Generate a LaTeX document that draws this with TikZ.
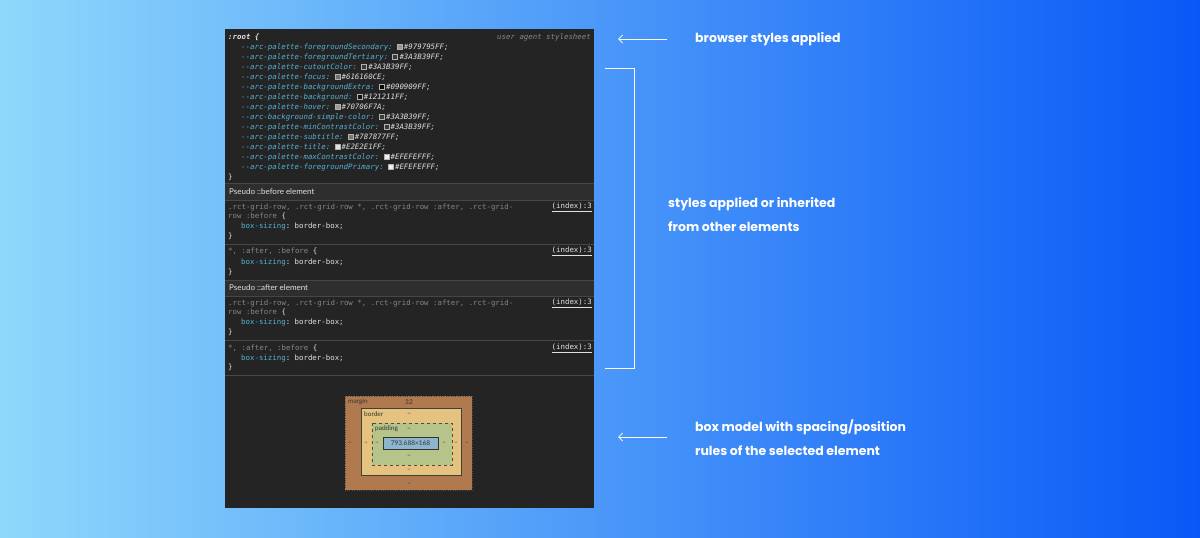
\documentclass[tikz,border=0pt]{standalone}
\usepackage{fontspec}
\setmainfont{Poppins}
\setsansfont{Lato}
\setmonofont{DejaVu Sans Mono}
\usetikzlibrary{positioning, arrows.meta}
\definecolor{bgleft}{RGB}{142,216,251}
\definecolor{bgright}{RGB}{8,88,247}
\definecolor{panelcolor}{RGB}{36,36,36}
\definecolor{headcolor}{RGB}{46,46,46}
\definecolor{rulecolor}{RGB}{70,70,70}
\definecolor{propcolor}{RGB}{82,178,214}
\definecolor{valcolor}{RGB}{225,225,225}
\definecolor{selcolor}{RGB}{135,135,135}
\definecolor{margincolor}{RGB}{176,122,78}
\definecolor{bordercolor}{RGB}{230,194,127}
\definecolor{padcolor}{RGB}{182,196,138}
\definecolor{contentcolor}{RGB}{141,182,206}
\begin{document}
\begin{tikzpicture}[
    x=1pt, y=-1pt,
    code/.style={anchor=west, inner sep=0pt, font=\ttfamily\fontsize{7.4}{8}\selectfont},
    prop/.style={code, text=propcolor},
    val/.style={code, text=valcolor},
    sel/.style={code, text=selcolor},
    src/.style={code, text=valcolor, anchor=east},
    header/.style={anchor=west, inner sep=0pt, text=valcolor, font=\sffamily\fontsize{8}{9}\selectfont},
    note/.style={anchor=west, inner sep=0pt, text=white, align=left, font=\fontsize{12.5}{24}\selectfont\bfseries},
    swatch/.style={draw=gray!60, minimum size=5pt, inner sep=0pt},
    pointer/.style={-{Straight Barb[length=4pt]}, white, line width=0.8pt},
    boxlabel/.style={inner sep=0pt, text=black!80, font=\sffamily\fontsize{6.5}{7}\selectfont}
]
    % background
    \shade[left color=bgleft, right color=bgright] (0,0) rectangle (1200,538);

    % devtools panel
    \fill[panelcolor] (225,29) rectangle (594,508);
    \fill[headcolor] (225,183) rectangle (594,200);
    \fill[headcolor] (225,280) rectangle (594,296);
    \foreach \y in {183,200,244,280,296,340,375}
        \draw[rulecolor, line width=0.7pt] (225,\y) -- (594,\y);

    % :root block
    \node[val, font=\ttfamily\itshape\bfseries\fontsize{7.4}{8}\selectfont] (root) at (228,37) {:root \{};
    \node[sel, anchor=east, font=\ttfamily\itshape\fontsize{7.4}{8}\selectfont] (uas) at (591,37) {user agent stylesheet};
    \foreach \prop/\val/\sw [count=\i] in {
        --arc-palette-foregroundSecondary/979795FF/979795,
        --arc-palette-foregroundTertiary/3A3B39FF/3A3B39,
        --arc-palette-cutoutColor/3A3B39FF/3A3B39,
        --arc-palette-focus/616160CE/707070,
        --arc-palette-backgroundExtra/090909FF/090909,
        --arc-palette-background/121211FF/121211,
        --arc-palette-hover/70706F7A/9A9A9A,
        --arc-background-simple-color/3A3B39FF/3A3B39,
        --arc-palette-minContrastColor/3A3B39FF/3A3B39,
        --arc-palette-subtitle/787877FF/787877,
        --arc-palette-title/E2E2E1FF/E2E2E1,
        --arc-palette-maxContrastColor/EFEFEFFF/EFEFEF,
        --arc-palette-foregroundPrimary/EFEFEFFF/EFEFEF} {
        \definecolor{sw\i}{HTML}{\sw}
        \node[prop, font=\ttfamily\itshape\fontsize{7.4}{8}\selectfont] (p\i) at (241,37+10*\i) {\prop:};
        \node[swatch, fill=sw\i, right=4pt of p\i] (s\i) {};
        \node[val, font=\ttfamily\itshape\fontsize{7.4}{8}\selectfont, right=1.5pt of s\i] (v\i) {\#\val;};
    }
    \node[val] (rootend) at (228,177) {\}};

    % pseudo ::before
    \node[header] (before) at (229,192) {Pseudo ::before element};
    \node[sel] (r1a) at (228,207) {.rct-grid-row, .rct-grid-row *, .rct-grid-row :after, .rct-grid-};
    \node[sel] (r1b) at (228,216) {row :before \textcolor{valcolor}{\{}};
    \node[prop] (r1c) at (241,226) {box-sizing\textcolor{valcolor}{: border-box;}};
    \node[val] (r1d) at (228,236) {\}};
    \node[src] (i1) at (592,207) {\underline{(index):3}};
    \node[sel] (r2a) at (228,251) {*, :after, :before \textcolor{valcolor}{\{}};
    \node[prop] (r2c) at (241,262) {box-sizing\textcolor{valcolor}{: border-box;}};
    \node[val] (r2d) at (228,272) {\}};
    \node[src] (i2) at (592,251) {\underline{(index):3}};

    % pseudo ::after
    \node[header] (after) at (229,288) {Pseudo ::after element};
    \node[sel] (r3a) at (228,303) {.rct-grid-row, .rct-grid-row *, .rct-grid-row :after, .rct-grid-};
    \node[sel] (r3b) at (228,312) {row :before \textcolor{valcolor}{\{}};
    \node[prop] (r3c) at (241,322) {box-sizing\textcolor{valcolor}{: border-box;}};
    \node[val] (r3d) at (228,332) {\}};
    \node[src] (i3) at (592,303) {\underline{(index):3}};
    \node[sel] (r4a) at (228,348) {*, :after, :before \textcolor{valcolor}{\{}};
    \node[prop] (r4c) at (241,358) {box-sizing\textcolor{valcolor}{: border-box;}};
    \node[val] (r4d) at (228,367) {\}};
    \node[src] (i4) at (592,348) {\underline{(index):3}};

    % box model
    \filldraw[fill=margincolor, draw=black!70, dotted] (345,396) rectangle (472,490);
    \filldraw[fill=bordercolor, draw=black!75, line width=0.8pt] (361,408) rectangle (461,475);
    \filldraw[fill=padcolor, draw=black!70, dashed] (372,423) rectangle (452,465);
    \filldraw[fill=contentcolor, draw=black!80, line width=0.8pt] (383,437) rectangle (438,449);
    \node[boxlabel, anchor=west] (mlab) at (348,402) {margin};
    \node[boxlabel] (mtop) at (409,402) {32};
    \node[boxlabel, anchor=west] (blab) at (364,414) {border};
    \node[boxlabel, anchor=west] (plab) at (375,429) {padding};
    \node[boxlabel] (content) at (410.5,443) {793.688×168};
    \foreach \x/\y in {409/414, 409/429, 409/456, 409/470, 409/484,
                       350/443, 366/443, 377/443, 444/443, 456/443, 467/443}
        \node[boxlabel] at (\x,\y) {–};

    % annotations
    \node[note] (n1) at (695,39) {browser styles applied};
    \node[note] (n2) at (668,215) {styles applied or inherited\\from other elements};
    \node[note] (n3) at (695,438) {box model with spacing/position\\rules of the selected element};
    \coordinate (a1) at (667,39);  \coordinate (b1) at (618,39);
    \coordinate (a3) at (667,437); \coordinate (b3) at (618,437);
    \draw[pointer] (a1) -- (b1);
    \draw[pointer] (a3) -- (b3);
    \coordinate (k1) at (605,68); \coordinate (k2) at (634,368);
    \draw[white, line width=0.8pt] (k1) -| (k2) -- (605,368);
\end{tikzpicture}
\end{document}
